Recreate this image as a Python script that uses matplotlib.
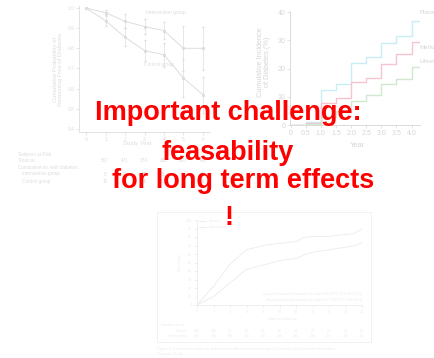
import numpy as np
import matplotlib.pyplot as plt
from matplotlib.patches import Rectangle

W, H = 434, 358

# --- top-left: probability of remaining free of diabetes ---
study_years = [0, 1, 2, 3, 4, 5, 6]
interv_prob = [1.0, 0.977, 0.934, 0.908, 0.888, 0.800, 0.800]
interv_err = [0.0, 0.015, 0.035, 0.038, 0.043, 0.110, 0.105]
control_prob = [1.0, 0.937, 0.855, 0.789, 0.768, 0.652, 0.570]
control_err = [0.0, 0.027, 0.045, 0.054, 0.060, 0.093, 0.090]
prob_ticks = [0.4, 0.5, 0.6, 0.7, 0.8, 0.9, 1.0]

risk_rows = ["Total no.", "Cumulative no. with diabetes:", "Intervention group", "Control group"]
risk_total = [507, 471, 374, 302, 220, 148]
risk_interv = [5, 12, 20, 31, 43, 53]
risk_control = [16, 31, 46, 57, 71, 80]

# --- top-right: cumulative incidence step curves ---
step_years = [0, 0.5, 1.0, 1.5, 2.0, 2.5, 3.0, 3.5, 4.0, 4.25]
placebo = [0, 1.0, 12.4, 14.6, 21.9, 24.0, 29.0, 31.4, 36.8, 36.8]
metformin = [0, 0.8, 7.9, 9.5, 15.1, 16.8, 21.7, 25.2, 29.3, 29.3]
lifestyle = [0, 0.5, 2.8, 4.9, 8.5, 10.7, 14.4, 16.4, 20.5, 20.5]
step_xticks = [0, 0.5, 1.0, 1.5, 2.0, 2.5, 3.0, 3.5, 4.0]

# --- bottom: 20-year follow-up ---
fu_years = [0, 2, 4, 6, 8, 10, 12, 13, 14, 16, 18, 19, 20]
fu_control = [0, 22, 48, 65, 70, 72.5, 74.5, 79.5, 80.5, 80.8, 83, 84, 89.5]
fu_interv = [0, 10, 26, 42, 47, 52, 55, 59, 62, 65, 68, 69.5, 73.5]
fu_xticks = list(range(0, 21, 2))
risk_ctrl_20 = [135, 105, 90, 68, 49, 37, 34, 27, 27, 23, 14]
risk_int_20 = [428, 402, 374, 350, 328, 306, 292, 280, 267, 236, 214]

plt.rcParams['font.family'] = ['Liberation Sans', 'DejaVu Sans']
fig = plt.figure(figsize=(W / 100, H / 100), dpi=100)
fig.patch.set_facecolor('white')


def px_axes(x0, y0, x1, y1):
    return fig.add_axes([x0 / W, 1 - y1 / H, (x1 - x0) / W, (y1 - y0) / H])


def ftext(x, y, s, **kw):
    fig.text(x / W, 1 - y / H, s, **kw)


def faint_axes(ax, col, fs):
    for s in ['top', 'right']:
        ax.spines[s].set_visible(False)
    for s in ['left', 'bottom']:
        ax.spines[s].set_color(col)
        ax.spines[s].set_linewidth(0.6)
    ax.tick_params(colors=col, labelsize=fs, length=2, width=0.5, pad=1.5)
    ax.patch.set_alpha(0)


# top-left chart
c1 = '#dddddd'
ax1 = px_axes(79, 6, 210, 132)
ax1.errorbar(study_years, interv_prob, yerr=interv_err, color=c1, lw=0.7,
             marker='s', ms=1.2, elinewidth=0.5, capsize=1)
ax1.errorbar(study_years, control_prob, yerr=control_err, color=c1, lw=0.7,
             marker='s', ms=1.2, elinewidth=0.5, capsize=1)
ax1.set_xlim(-0.36, 6.36)
ax1.set_ylim(0.385, 1.01)
ax1.set_xticks(study_years)
ax1.set_yticks(prob_ticks)
ax1.set_yticklabels([f"{v:.1f}" for v in prob_ticks])
faint_axes(ax1, c1, 3.5)
ax1.text(3.1, 0.97, "Intervention group", color=c1, fontsize=3.5)
ax1.text(3.0, 0.71, "Control group", color=c1, fontsize=3.5)
ftext(137, 144, "Study Year", color=c1, fontsize=4.2, ha='center', va='center')
ftext(58, 69, "Cumulative Probability of\nRemaining Free of Diabetes", color=c1,
      fontsize=4.2, ha='center', va='center', rotation=90, linespacing=1.0)

# subjects at risk table
ftext(18, 154, "Subjects at Risk", color=c1, fontsize=3.3, va='center')
row_y = [161, 168, 174, 181]
for name, y in zip(risk_rows, row_y):
    indent = 22 if name.endswith("group") else 18
    ftext(indent, y, name, color=c1, fontsize=3.3, va='center')
for i in range(len(risk_total)):
    x = 105 + 19.5 * i
    ftext(x, 161, str(risk_total[i]), color=c1, fontsize=3.3, ha='center', va='center')
    ftext(x, 174, str(risk_interv[i]), color=c1, fontsize=3.3, ha='center', va='center')
    ftext(x, 181, str(risk_control[i]), color=c1, fontsize=3.3, ha='center', va='center')

# top-right chart
c2 = '#d6d6d6'
ax2 = px_axes(290, 11, 420, 125)
ax2.step(step_years, placebo, where='post', color='#c9edf5', lw=1.0)
ax2.step(step_years, metformin, where='post', color='#f7c3cf', lw=1.0)
ax2.step(step_years, lifestyle, where='post', color='#cfe9cf', lw=1.0)
ax2.set_xlim(-0.02, 4.28)
ax2.set_ylim(0, 40.4)
ax2.set_xticks(step_xticks)
ax2.set_xticklabels(["0"] + [f"{v:.1f}" for v in step_xticks[1:]])
ax2.set_yticks([0, 10, 20, 30, 40])
faint_axes(ax2, c2, 5)
ax2.text(4.25, 36.8 + 2.5, "Placebo", color=c2, fontsize=4.5, clip_on=False)
ax2.text(4.25, 29.3 - 2.5, "Metformin", color=c2, fontsize=4.5, clip_on=False)
ax2.text(4.25, 20.5 + 1.5, "Lifestyle", color=c2, fontsize=4.5, clip_on=False)
ftext(358, 145, "Year", color=c2, fontsize=5.5, ha='center', va='center')
ftext(264, 62, "Cumulative Incidence\nof Diabetes (%)", color=c2, fontsize=5.3,
      ha='center', va='center', rotation=90, linespacing=1.0)

# bottom chart (framed figure)
c3 = '#ebebeb'
fig.patches.append(Rectangle((157 / W, 1 - 342 / H), 214 / W, 130 / H,
                             transform=fig.transFigure, fill=False,
                             edgecolor='#f0f0f0', lw=0.6))
ax3 = px_axes(197, 220, 362, 305)
ax3.plot(fu_years, fu_control, color=c3, lw=0.6, label="Control")
ax3.plot(fu_years, fu_interv, color=c3, lw=0.6, label="Intervention")
ax3.set_xlim(0, 20)
ax3.set_ylim(0, 100)
ax3.set_xticks(fu_xticks)
ax3.set_yticks(range(0, 101, 10))
faint_axes(ax3, c3, 2.6)
ax3.legend(loc='upper left', fontsize=2.6, frameon=False, handlelength=2,
           borderaxespad=0.1, labelcolor=c3, bbox_to_anchor=(0.0, 1.03))
ax3.text(20, 13, "6-year intervention hazard rate ratio 0·45 (95% CI 0·33–0·73)",
         color=c3, fontsize=2.6, ha='right', va='center')
ax3.text(20, 6, "20-year follow-up hazard rate ratio 0·57 (95% CI 0·41–0·81)",
         color=c3, fontsize=2.6, ha='right', va='center')
ftext(282, 319, "Years of follow-up", color=c3, fontsize=2.6, ha='center', va='center')
ftext(180, 262, "Percentage", color=c3, fontsize=2.6, ha='center', va='center', rotation=90)
ftext(161, 325, "Number at risk", color=c3, fontsize=2.6, va='center')
ftext(188, 331, "Control", color=c3, fontsize=2.6, ha='right', va='center')
ftext(188, 336, "Intervention", color=c3, fontsize=2.6, ha='right', va='center')
for i, yr in enumerate(fu_xticks):
    x = 197 + 8.25 * yr
    ftext(x, 331, str(risk_ctrl_20[i]), color=c3, fontsize=2.6, ha='center', va='center')
    ftext(x, 336, str(risk_int_20[i]), color=c3, fontsize=2.6, ha='center', va='center')
ftext(157, 347, "Figure 2: Cumulative incidence of diabetes mellitus during follow-up "
      "in China Da Qing Diabetes Prevention\nOutcome Study",
      color=c3, fontsize=2.7, va='top', linespacing=1.4)

# red headline
red = dict(color='#ff0000', fontsize=19.5, fontweight='bold', ha='center', va='center')
ftext(228, 113, "Important challenge:", **red)
ftext(228, 153, "feasability", **red)
ftext(243, 181, "for long term effects", **red)
ftext(229, 218, "!", **red)

fig.savefig('out.png', dpi=100, facecolor='white')
